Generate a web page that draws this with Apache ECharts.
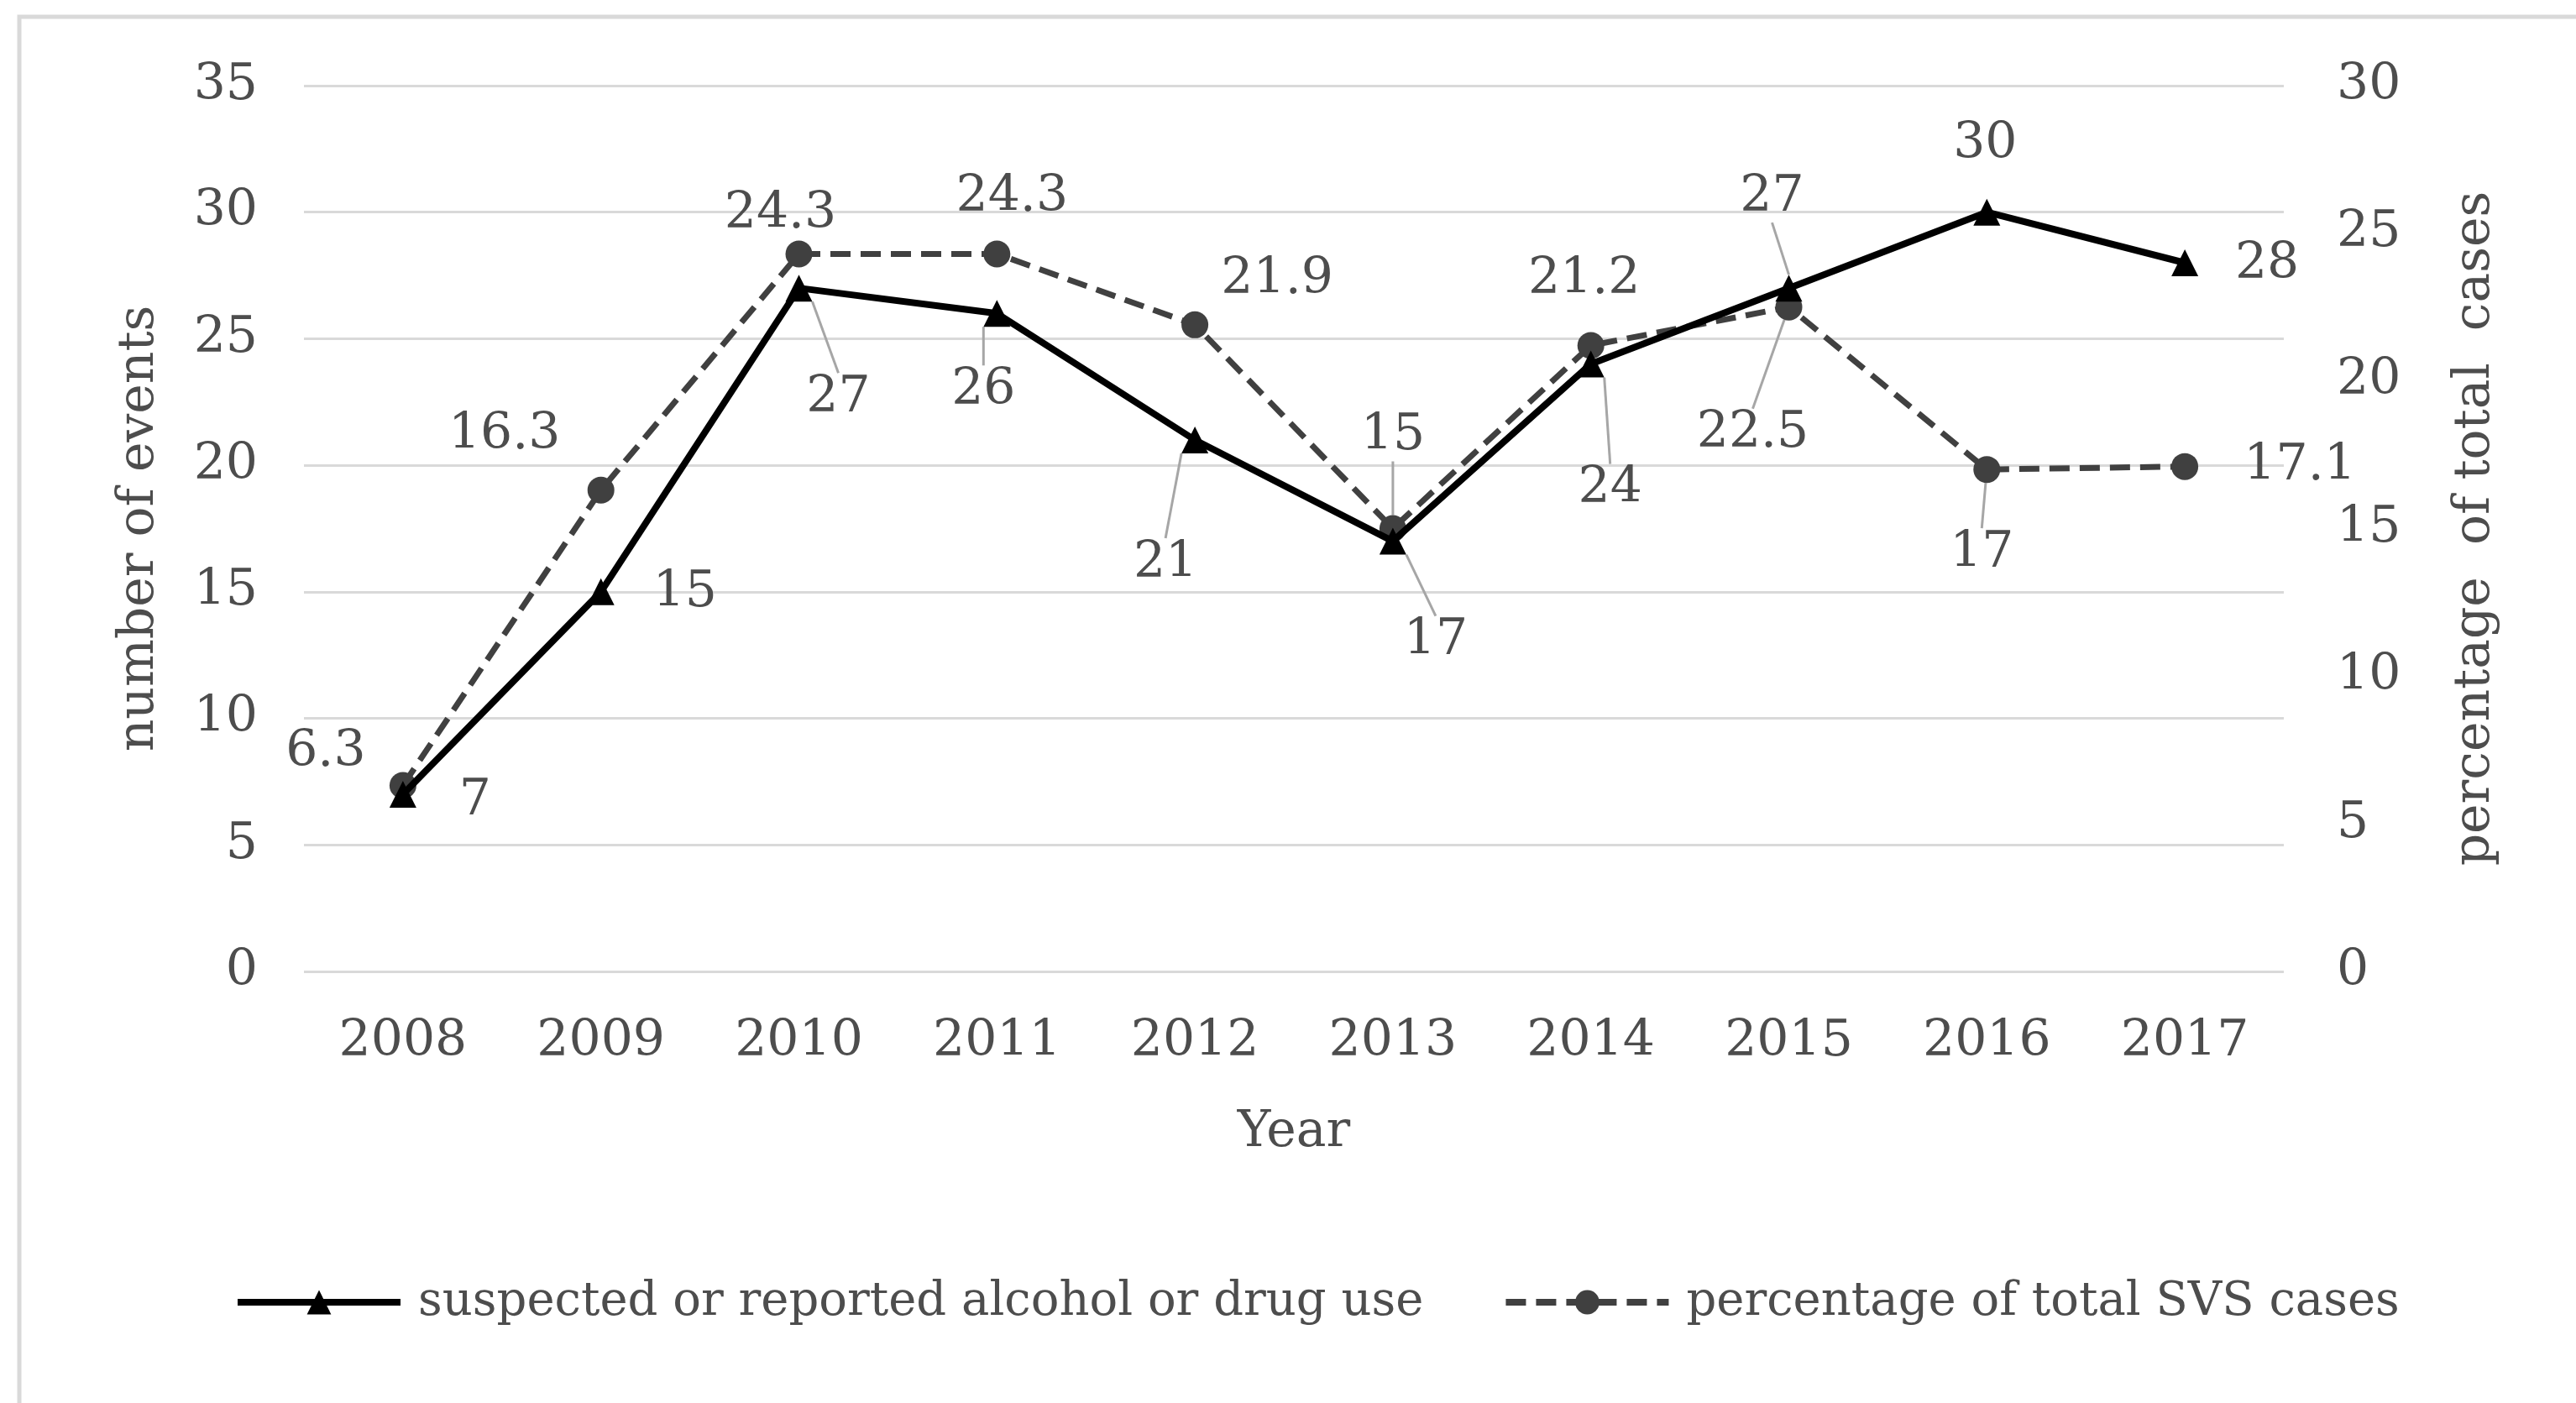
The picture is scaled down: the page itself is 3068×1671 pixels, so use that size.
<!DOCTYPE html>
<html>
<head>
<meta charset="utf-8">
<script src="https://cdn.jsdelivr.net/npm/echarts@6/dist/echarts.min.js"></script>
<style>
html,body{margin:0;padding:0;background:#fff;}
#chart{width:3068px;height:1671px;}
</style>
</head>
<body>
<div id="chart"></div>
<script>
const years = ['2008','2009','2010','2011','2012','2013','2014','2015','2016','2017'];
const events = [7, 15, 27, 26, 21, 17, 24, 27, 30, 28];
const percentage = [6.3, 16.3, 24.3, 24.3, 21.9, 15, 21.2, 22.5, 17, 17.1];
const seriesNames = ['suspected or reported alcohol or drug use', 'percentage of total SVS cases'];

// label placement (callout offsets from the point, in px) and leader-line flags
const eventsLabelShift = [[86,8],[100,2],[47,131],[-16,92],[-35,147],[51,119],[23,149],[-20,-108],[-2,-80],[98,2]];
const eventsLeader = [0,0,1,1,1,1,1,1,0,0];
const pctLabelShift = [[-92,-39],[-115,-65],[-22,-47],[18,-67],[98,-53],[0,-110],[-8,-78],[-43,151],[-6,100],[137,0]];
const pctLeader = [0,0,0,0,0,1,0,1,1,0];

const FONT = 'DejaVu Serif';
const TXT = '#4d4d4d';
const leaderStyle = {color:'#a6a6a6', width:3};

function items(vals, leaders){
  return vals.map((v,i)=>({value:v, labelLine:{show:!!leaders[i], lineStyle:leaderStyle}}));
}

const chart = echarts.init(document.getElementById('chart'), null, {renderer:'canvas'});
chart.setOption({
  animation:false,
  backgroundColor:'#fff',
  graphic:[{type:'rect', shape:{x:23,y:20,width:3200,height:1800}, style:{fill:'none', stroke:'#d9d9d9', lineWidth:5}, silent:true}],
  grid:{left:362, right:348, top:102, bottom:514},
  legend:{
    left:274, top:1518, itemWidth:194, itemHeight:36, itemGap:94,
    textStyle:{fontFamily:FONT, fontSize:56, color:TXT, padding:[0,0,0,16]},
    data:[
      {name:seriesNames[0], lineStyle:{width:8}},
      {name:seriesNames[1], lineStyle:{width:8}}
    ]
  },
  xAxis:{
    type:'category', data:years, boundaryGap:true,
    name:'Year', nameLocation:'middle', nameGap:162,
    nameTextStyle:{fontFamily:FONT, fontSize:60, color:TXT},
    axisLine:{show:false}, axisTick:{show:false},
    axisLabel:{fontFamily:FONT, fontSize:60, color:TXT, margin:54}
  },
  yAxis:[{
    type:'value', min:0, max:35, interval:5, position:'left',
    name:'number of events', nameLocation:'middle', nameGap:166, nameRotate:90,
    nameTextStyle:{fontFamily:FONT, fontSize:60, color:TXT},
    axisLine:{show:false}, axisTick:{show:false},
    axisLabel:{fontFamily:FONT, fontSize:60, color:TXT, margin:55},
    splitLine:{lineStyle:{color:'#d9d9d9', width:3}}
  },{
    type:'value', min:0, max:30, interval:5, position:'right',
    name:'percentage  of total  cases', nameLocation:'middle', nameGap:198, nameRotate:90,
    nameTextStyle:{fontFamily:FONT, fontSize:60, color:TXT},
    axisLine:{show:false}, axisTick:{show:false},
    axisLabel:{fontFamily:FONT, fontSize:60, color:TXT, margin:63},
    splitLine:{show:false}
  }],
  series:[{
    name:seriesNames[1], type:'line', yAxisIndex:1,
    data:items(percentage, pctLeader),
    symbol:'circle', symbolSize:32, z:2,
    itemStyle:{color:'#404040'},
    lineStyle:{color:'#404040', width:7, type:[24,12]},
    label:{show:true, position:'inside', fontFamily:FONT, fontSize:60, color:TXT},
    labelLayout:function(p){ const s = pctLabelShift[p.dataIndex]; return {dx:s[0], dy:s[1]}; }
  },{
    name:seriesNames[0], type:'line', yAxisIndex:0,
    data:items(events, eventsLeader),
    symbol:'triangle', symbolSize:32, z:3,
    itemStyle:{color:'#000'},
    lineStyle:{color:'#000', width:8},
    label:{show:true, position:'inside', fontFamily:FONT, fontSize:60, color:TXT},
    labelLayout:function(p){ const s = eventsLabelShift[p.dataIndex]; return {dx:s[0], dy:s[1]}; }
  }]
});
</script>
</body>
</html>
